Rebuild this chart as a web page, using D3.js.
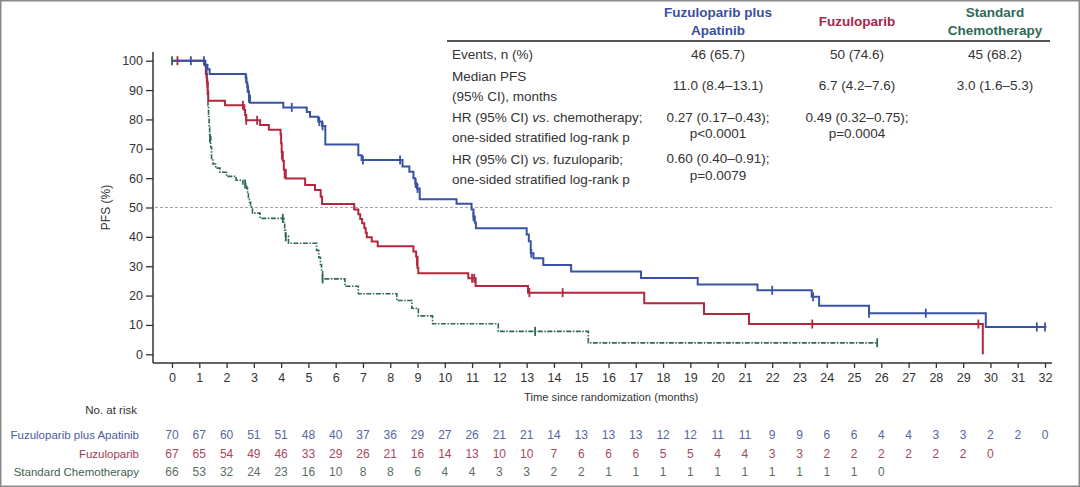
<!DOCTYPE html>
<html><head><meta charset="utf-8">
<script src="https://cdn.jsdelivr.net/npm/d3@7/dist/d3.min.js"></script>
<style>body{margin:0;background:#fff}svg{display:block;font-family:"Liberation Sans",Arial,sans-serif}</style>
</head><body><svg id="c" width="1080" height="487"></svg>
<script>
// ---------- data ----------
const months = d3.range(0, 33);
const yTicks = d3.range(0, 101, 10);
const seriesNames = ["Fuzuloparib plus Apatinib", "Fuzuloparib", "Standard Chemotherapy"];

const comboSteps = [[0,100],[1.22,98.6],[1.3,97.1],[1.38,95.5],[2.7,94.1],[2.73,92.6],[2.76,91.1],[2.79,89.6],[2.82,88.1],[2.86,85.7],[4.08,84.1],[4.94,82.5],[5.06,80.9],[5.36,79.3],[5.5,77.8],[5.62,71.5],[6.83,67.8],[6.95,66.2],[8.45,64.0],[8.7,62.2],[8.85,60.0],[8.92,58.2],[8.98,56.5],[9.08,52.8],[10.43,51.3],[10.98,49.3],[11.05,46.9],[11.1,44.9],[11.14,42.9],[13.0,40.8],[13.08,38.5],[13.15,34.4],[13.25,32.7],[13.61,30.4],[14.63,28.2],[17.19,26.0],[19.27,23.8],[21.46,21.8],[23.45,19.6],[23.72,16.5],[25.55,14.0],[29.83,9.3]];
const comboCensor = [[0.69,100],[1.17,100],[1.27,97.1],[2.72,93.9],[2.77,90.6],[2.82,87.2],[4.39,84.1],[5.4,79.3],[5.52,77.8],[7.0,66.2],[8.36,66.2],[8.93,58.2],[9.0,56.5],[11.05,46.9],[13.17,34.4],[22.0,21.8],[23.5,19.6],[25.55,14.0],[27.63,14.0],[31.7,9.3],[32.0,9.3]];
const comboEnd = 32.05;

const fuzSteps = [[0,100],[1.2,98.5],[1.24,95.5],[1.28,92.5],[1.31,89.4],[1.33,86.4],[1.94,84.8],[2.65,83.2],[2.68,81.5],[2.72,79.7],[3.23,78.1],[3.55,76.5],[3.98,74.9],[4.0,71.9],[4.02,68.9],[4.06,65.9],[4.1,62.9],[4.17,59.9],[4.88,57.7],[5.24,56.0],[5.45,53.7],[5.5,51.2],[6.68,49.3],[6.83,47.7],[6.9,46.1],[6.97,44.6],[7.05,43.0],[7.1,41.4],[7.14,39.9],[7.32,38.4],[7.54,36.8],[8.85,35.0],[8.95,33.2],[9.0,29.4],[9.03,27.6],[10.86,25.9],[11.13,23.3],[13.05,21.0],[17.31,17.4],[19.5,13.7],[21.15,10.3],[29.72,0]];
const fuzCensor = [[0.2,100],[1.3,92.3],[2.6,84.8],[2.72,79.7],[3.12,79.7],[4.03,67.9],[4.13,61.4],[8.98,31.5],[11.0,25.9],[11.08,25.9],[13.1,21.0],[14.32,21.0],[23.47,10.3],[29.56,10.3]];
const fuzEnd = 29.72;

const chemoSteps = [[0,100],[1.22,98.1],[1.24,96.2],[1.26,94.3],[1.28,92.4],[1.3,88.6],[1.32,84.8],[1.34,81.0],[1.36,77.2],[1.38,74.2],[1.42,70.5],[1.45,66.7],[1.5,64.8],[1.6,63.4],[1.76,62.0],[2.0,60.6],[2.35,59.3],[2.6,58.0],[2.74,56.5],[2.77,54.9],[2.8,53.4],[2.84,51.8],[2.88,50.2],[2.95,48.1],[3.23,46.3],[4.1,44.3],[4.13,42.3],[4.16,40.3],[4.27,37.8],[5.3,35.4],[5.38,33.0],[5.44,30.6],[5.48,28.1],[5.52,25.7],[6.34,23.2],[6.83,20.6],[8.24,18.3],[8.79,15.7],[9.03,13.1],[9.55,10.4],[11.96,7.8],[15.26,3.9]];
const chemoCensor = [[0,100],[1.39,73.6],[2.68,58.0],[4.06,46.3],[4.17,40.0],[5.52,25.7],[13.31,7.8],[25.85,3.9]];
const chemoEnd = 25.85;

const comboRisk = [70,67,60,51,51,48,40,37,36,29,27,26,21,21,14,13,13,13,12,12,11,11,9,9,6,6,4,4,3,3,2,2,0];
const fuzRisk = [67,65,54,49,46,33,29,26,21,16,14,13,10,10,7,6,6,6,5,5,4,4,3,3,2,2,2,2,2,2,0];
const chemoRisk = [66,53,32,24,23,16,10,8,8,6,4,4,3,3,2,2,1,1,1,1,1,1,1,1,1,1,0];

const tableRowLabels = [["Events, n (%)"],["Median PFS","(95% CI), months"],["HR (95% CI) vs. chemotherapy;","one-sided stratified log-rank p"],["HR (95% CI) vs. fuzuloparib;","one-sided stratified log-rank p"]];
const comboTable = [["46 (65.7)"],["11.0 (8.4–13.1)"],["0.27 (0.17–0.43);","p<0.0001"],["0.60 (0.40–0.91);","p=0.0079"]];
const fuzTable = [["50 (74.6)"],["6.7 (4.2–7.6)"],["0.49 (0.32–0.75);","p=0.0004"],[]];
const chemoTable = [["45 (68.2)"],["3.0 (1.6–5.3)"],[],[]];
const headers = [["Fuzuloparib plus","Apatinib"],["Fuzuloparib"],["Standard","Chemotherapy"]];

// ---------- styles ----------
const lineCol = ["#3853a3", "#b3263e", "#2b6a4d"];
const headCol = ["#3b4f9c", "#a3274a", "#2f6a57"];
const riskLabCol = ["#4b5c9f", "#a33c52", "#3f5f50"];
const riskNumCol = ["#56669f", "#a54a5c", "#59705f"];

const svg = d3.select("#c");
svg.append("rect").attr("x",0.75).attr("y",0.75).attr("width",1078.5).attr("height",485.5)
  .attr("fill","#fff").attr("stroke","#8a8a8a").attr("stroke-width",1.5);

const x = d3.scaleLinear().domain([0, 32]).range([172, 1045]);
const y = d3.scaleLinear().domain([0, 100]).range([354.3, 60.7]);
const axX = 153, axY = 363;

// dashed median line
svg.append("line").attr("x1", 155).attr("x2", 1052).attr("y1", y(50)).attr("y2", y(50))
  .attr("stroke", "#a5a5a5").attr("stroke-width", 1).attr("stroke-dasharray", "3,2");

// axes
const yAxis = svg.append("g").attr("transform", `translate(${axX},0)`)
  .call(d3.axisLeft(y).tickValues(yTicks).tickSize(7).tickPadding(3));
const xAxis = svg.append("g").attr("transform", `translate(0,${axY})`)
  .call(d3.axisBottom(x).tickValues(months).tickSize(5).tickPadding(5));
[yAxis, xAxis].forEach(g => {
  g.select(".domain").remove();
  g.selectAll(".tick line").attr("stroke", "#333").attr("stroke-width", 1.3);
  g.selectAll(".tick text").attr("fill", "#333").style("font-size", "12.5px").style("font-family", '"Liberation Sans",Arial,sans-serif');
});
svg.append("line").attr("x1", axX).attr("x2", axX).attr("y1", 52).attr("y2", axY).attr("stroke", "#333").attr("stroke-width", 1.5);
svg.append("line").attr("x1", axX).attr("x2", 1052).attr("y1", axY).attr("y2", axY).attr("stroke", "#333").attr("stroke-width", 1.5);

svg.append("text").attr("transform", `translate(107,${y(50)}) rotate(-90)`).attr("text-anchor", "middle")
  .attr("dominant-baseline", "middle").style("font-size", "12px").attr("fill", "#333").text("PFS (%)");
svg.append("text").attr("x", 524).attr("y", 401).style("font-size", "11.2px").attr("fill", "#333")
  .text("Time since randomization (months)");

// curves
const line = d3.line().x(d => x(d[0])).y(d => y(d[1])).curve(d3.curveStepAfter);
const series = [
  {steps: comboSteps, cens: comboCensor, end: comboEnd, w: 2, dash: null},
  {steps: fuzSteps, cens: fuzCensor, end: fuzEnd, w: 2, dash: null},
  {steps: chemoSteps, cens: chemoCensor, end: chemoEnd, w: 1.6, dash: "5,1.5,1.5,1.5"}
];
[2, 1, 0].forEach(i => {
  const s = series[i];
  const pts = s.steps.slice();
  const last = pts[pts.length - 1];
  if (s.end > last[0]) pts.push([s.end, last[1]]);
  svg.append("path").datum(pts).attr("d", line).attr("fill", "none")
    .attr("stroke", lineCol[i]).attr("stroke-width", s.w)
    .attr("stroke-dasharray", s.dash);
  svg.append("g").selectAll("line").data(s.cens).join("line")
    .attr("x1", d => x(d[0])).attr("x2", d => x(d[0]))
    .attr("y1", d => y(d[1]) - 4.5).attr("y2", d => y(d[1]) + 4.5)
    .attr("stroke", lineCol[i]).attr("stroke-width", 1.8);
});

// table
const colX = [718, 857, 995];
const rowY = [[55],[77,97],[118,138],[160,180]];
const valY = [[55],[86],[118,134],[159,176]];
const tg = svg.append("g").style("font-size", "13.5px").attr("fill", "#333");
tableRowLabels.forEach((lines, r) => lines.forEach((t, k) => {
  const txt = tg.append("text").attr("x", 452).attr("y", rowY[r][k]).attr("dominant-baseline", "middle");
  if (t.includes(" vs. ")) {
    const parts = t.split(" vs. ");
    txt.append("tspan").text(parts[0] + " ");
    txt.append("tspan").attr("font-style", "italic").text("vs");
    txt.append("tspan").text(". " + parts[1]);
  } else txt.text(t);
}));
[comboTable, fuzTable, chemoTable].forEach((col, c) => col.forEach((lines, r) => lines.forEach((t, k) => {
  tg.append("text").attr("x", colX[c]).attr("y", valY[r][k]).attr("text-anchor", "middle")
    .attr("dominant-baseline", "middle").text(t);
})));
const hY = [[13, 31], [22], [13, 31]];
headers.forEach((lines, c) => lines.forEach((t, k) => {
  svg.append("text").attr("x", colX[c]).attr("y", hY[c][k]).attr("text-anchor", "middle")
    .attr("dominant-baseline", "middle").style("font-size", "13.5px").style("font-weight", "bold")
    .attr("fill", headCol[c]).text(t);
}));
svg.append("line").attr("x1", 447).attr("x2", 1050).attr("y1", 41).attr("y2", 41)
  .attr("stroke", "#555").attr("stroke-width", 2);

// risk table
svg.append("text").attr("x", 137).attr("y", 411).attr("text-anchor", "end").attr("dominant-baseline", "middle")
  .style("font-size", "11.5px").attr("fill", "#333").text("No. at risk");
const riskY = [436, 455, 473];
[comboRisk, fuzRisk, chemoRisk].forEach((arr, i) => {
  svg.append("text").attr("x", 139).attr("y", riskY[i]).attr("text-anchor", "end").attr("dominant-baseline", "middle")
    .style("font-size", "11.5px").attr("fill", riskLabCol[i]).text(seriesNames[i]);
  svg.append("g").selectAll("text").data(arr).join("text")
    .attr("x", (d, k) => x(months[k])).attr("y", riskY[i]).attr("text-anchor", "middle")
    .attr("dominant-baseline", "middle").style("font-size", "12px").attr("fill", riskNumCol[i]).text(d => d);
});
</script></body></html>
